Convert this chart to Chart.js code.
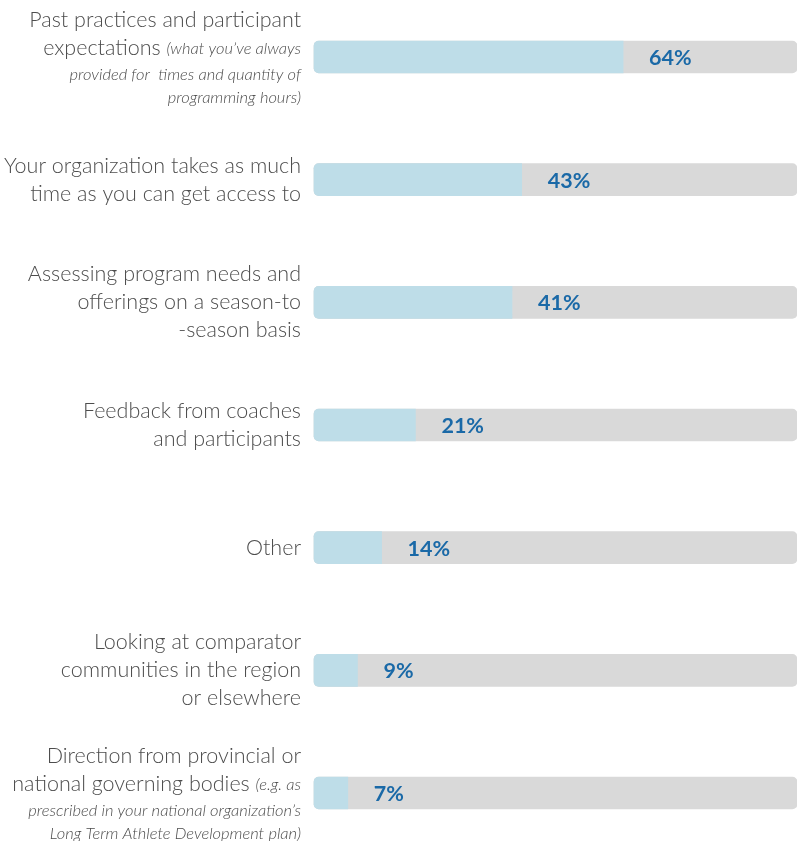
<!DOCTYPE html>
<html>
<head>
<meta charset="utf-8">
<script src="https://cdn.jsdelivr.net/npm/chart.js@4"></script>
<style>
  html, body { margin: 0; padding: 0; background: #fff; }
  canvas { display: block; }
</style>
</head>
<body>
<canvas id="chart" width="797" height="841"></canvas>
<script>
// labels, one entry per line; "|" starts the italic part of a line
const labelLines = [
  ["Past practices and participant", "expectations |(what you\u2019ve always", "|provided for  times and quantity of", "|programming hours)"],
  ["Your organization takes as much", "time as you can get access to"],
  ["Assessing program needs and", "offerings on a season-to", "-season basis"],
  ["Feedback from coaches", "and participants"],
  ["Other"],
  ["Looking at comparator", "communities in the region", "or elsewhere"],
  ["Direction from provincial or", "national governing bodies |(e.g. as", "|prescribed in your national organization\u2019s", "|Long Term Athlete Development plan)"]
];
const categories = labelLines.map((l) => l.join(" ").replace(/\|/g, ""));
const percentValues = [64, 43, 41, 21, 14, 9, 7];
const fullValues = [100, 100, 100, 100, 100, 100, 100];

const blue = "#bedde8";
const grey = "#d9d9d9";
const valueColor = "#1a69a7";
const textColor = "#4d4d4d";

// left side labels with mixed normal / italic runs
const leftLabels = {
  id: "leftLabels",
  afterDraw(chart) {
    const ctx = chart.ctx;
    const yScale = chart.scales.y;
    const right = 301;
    ctx.save();
    ctx.textBaseline = "middle";
    labelLines.forEach((lines, i) => {
      const heights = lines.map((l) => (l.startsWith("|") ? 23 : 28));
      const total = heights.reduce((a, b) => a + b, 0);
      let y = yScale.getPixelForValue(i) - total / 2;
      lines.forEach((line, j) => {
        const cy = y + heights[j] / 2;
        const parts = line.split("|");
        const normal = parts[0];
        const italic = parts.length > 1 ? parts[1] : "";
        let x = right;
        if (italic) {
          ctx.font = "italic 300 16.5px Lato";
          ctx.fillStyle = textColor;
          ctx.textAlign = "right";
          ctx.fillText(italic, x, cy + 1);
          x -= ctx.measureText(italic).width;
        }
        if (normal) {
          ctx.font = "300 21.5px Lato";
          ctx.fillStyle = textColor;
          ctx.textAlign = "right";
          ctx.fillText(normal, x, cy);
        }
        y += heights[j];
      });
    });
    ctx.restore();
  }
};

// percent labels just after the blue bar
const valueLabels = {
  id: "valueLabels",
  afterDatasetsDraw(chart) {
    const ctx = chart.ctx;
    const meta = chart.getDatasetMeta(0);
    ctx.save();
    ctx.font = "bold 21.5px Lato";
    ctx.fillStyle = valueColor;
    ctx.textAlign = "left";
    ctx.textBaseline = "middle";
    meta.data.forEach((bar, i) => {
      ctx.fillText(percentValues[i] + "%", bar.x + 26, bar.y + 1);
    });
    ctx.restore();
  }
};

new Chart(document.getElementById("chart").getContext("2d"), {
  type: "bar",
  data: {
    labels: categories,
    datasets: [
      {
        data: percentValues,
        backgroundColor: blue,
        grouped: false,
        barThickness: 32,
        borderSkipped: false,
        borderRadius: { topLeft: 5, bottomLeft: 5, topRight: 0, bottomRight: 0 },
        clip: false
      },
      {
        data: fullValues,
        backgroundColor: grey,
        grouped: false,
        barThickness: 32,
        borderSkipped: false,
        borderRadius: 5,
        clip: false
      }
    ]
  },
  options: {
    indexAxis: "y",
    responsive: false,
    animation: false,
    layout: { padding: { left: 314, right: 0, top: 57, bottom: 48 } },
    scales: {
      x: { display: false, min: 0, max: 100 },
      y: { display: false, offset: false }
    },
    plugins: {
      legend: { display: false },
      tooltip: { enabled: false }
    }
  },
  plugins: [leftLabels, valueLabels]
});
</script>
</body>
</html>
